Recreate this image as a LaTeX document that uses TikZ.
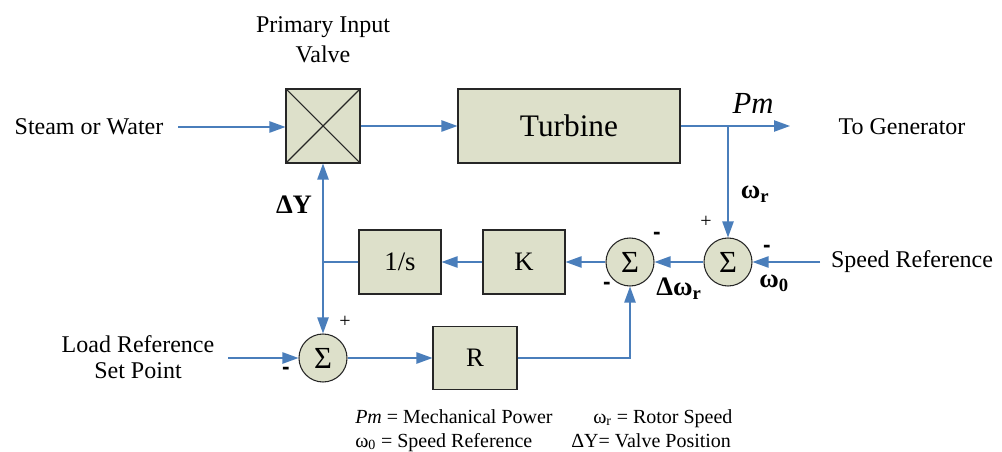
\documentclass[tikz,border=0pt]{standalone}
\usepackage{fontspec}
\setmainfont{Liberation Serif}
\setsansfont{Liberation Sans}
\usetikzlibrary{arrows.meta}
\definecolor{lineblue}{RGB}{74,126,187}
\definecolor{boxfill}{RGB}{221,224,202}
\begin{document}
\begin{tikzpicture}[x=0.75pt,y=-0.75pt,
  blk/.style={draw=black!85, fill=boxfill, line width=0.8pt, inner sep=0pt},
  sumc/.style={circle, draw=black!85, fill=boxfill, line width=0.8pt, minimum size=36pt, inner sep=0pt, font=\fontsize{23}{23}\selectfont},
  conn/.style={draw=lineblue, line width=1pt},
  arr/.style={conn, -{Triangle[length=12pt,width=8.5pt]}},
  lbl/.style={font=\fontsize{18}{21}\selectfont, align=center},
  bl/.style={font=\bfseries\fontsize{20}{22}\selectfont},
  sgn/.style={font=\sffamily\bfseries\fontsize{17}{17}\selectfont},
  pls/.style={font=\fontsize{15}{15}\selectfont},
  leg/.style={font=\fontsize{15}{17}\selectfont, anchor=base west, inner sep=0pt}]
\useasboundingbox (0,0) rectangle (1002,452);

% blocks
\node[blk, minimum width=55.5pt, minimum height=55.5pt] (valve) at (323,126) {};
\draw[black!85, line width=0.8pt] (valve.north west) -- (valve.south east)
      (valve.north east) -- (valve.south west);
\node[blk, minimum width=166.5pt, minimum height=55.5pt, font=\fontsize{23.5}{25}\selectfont] (turb) at (569,126) {Turbine};
\node[blk, minimum width=61.5pt, minimum height=48pt, font=\fontsize{20}{22}\selectfont] (K) at (524,262) {K};
\node[blk, minimum width=61.5pt, minimum height=48pt, font=\fontsize{20}{22}\selectfont] (integ) at (400,262) {1/s};
\node[blk, minimum width=63pt, minimum height=47pt, font=\fontsize{20}{22}\selectfont] (R) at (475,358) {R};

\node[sumc] (s1) at (728,262) {Σ};
\node[sumc] (s2) at (630,262) {Σ};
\node[sumc] (s3) at (323,358) {Σ};

% texts
\node[lbl, font=\fontsize{18}{22.5}\selectfont] (piv) at (323,40) {Primary Input\\Valve};
\node[lbl] (steam) at (89,127) {Steam or Water};
\node[lbl] (togen) at (902,127) {To Generator};
\node[lbl] (spref) at (912,262) {Speed Reference};
\node[lbl] (loadref) at (138,357) {Load Reference\\[-1pt]Set Point};
\node[font=\itshape\fontsize{23}{25}\selectfont] (pm) at (753,103) {Pm};

% coordinates
\coordinate (steamend) at (178,127);
\coordinate (genend) at (790,126);
\coordinate (br) at (728,126);
\coordinate (spstart) at (820,262);
\coordinate (ldstart) at (228,358);
\coordinate (j) at (323,262);

% connectors
\draw[arr] (steamend) -- (steamend -| valve.west);
\draw[arr] (valve.east) -- (turb.west);
\draw[arr] (turb.east) -- (genend);
\draw[arr] (br) -- (s1.north);
\draw[arr] (spstart) -- (s1.east);
\draw[arr] (s1.west) -- (s2.east);
\draw[arr] (s2.west) -- (K.east);
\draw[arr] (K.west) -- (integ.east);
\draw[conn] (integ.west) -- (j);
\draw[arr] (j) -- (valve.south);
\draw[arr] (j) -- (s3.north);
\draw[arr] (ldstart) -- (s3.west);
\draw[arr] (s3.east) -- (R.west);
\draw[arr] (R.east) -| (s2.south);

% signal labels
\node[bl] (dy) at (294,205) {ΔY};
\node[bl] (wr) at (755,194) {ω\textsubscript{r}};
\node[bl] (w0) at (774,283) {ω\textsubscript{0}};
\node[bl] (dwr) at (679,289) {Δω\textsubscript{r}};

% signs
\node[pls] (p1) at (706,222) {+};
\node[sgn] (m1) at (767,249) {-};
\node[sgn] (m2) at (657,236) {-};
\node[sgn] (m3) at (607,286) {-};
\node[pls] (p3) at (345,322) {+};
\node[sgn] (m4) at (286,371) {-};

% legend
\node[leg] (l1) at (355,423) {\textit{Pm} = Mechanical Power};
\node[leg] (l2) at (593,423) {ω\textsubscript{r} = Rotor Speed};
\node[leg] (l3) at (355,447) {ω\textsubscript{0} = Speed Reference};
\node[leg] (l4) at (571,447) {ΔY= Valve Position};
\end{tikzpicture}
\end{document}
